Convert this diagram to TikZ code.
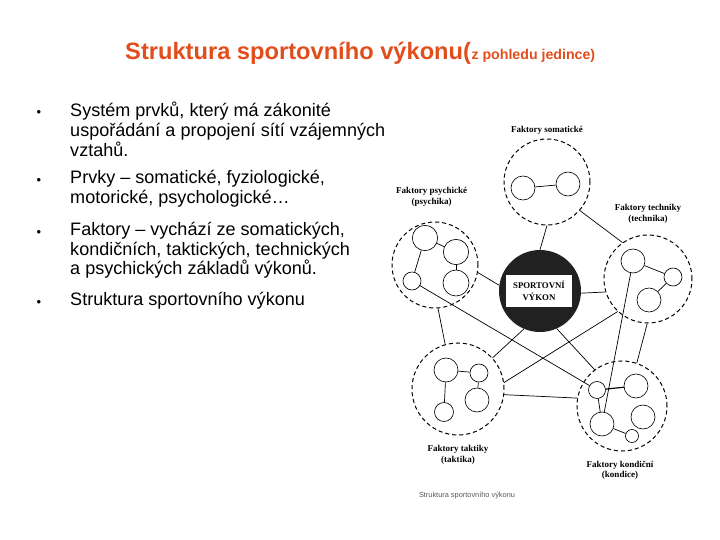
\documentclass[tikz,border=0pt]{standalone}
\usepackage{fontspec}
\setmainfont{Liberation Sans}
\newfontfamily\scanfont{Liberation Serif}
\usepackage{tikz}
\usetikzlibrary{positioning,calc}
\definecolor{titlered}{RGB}{226,78,27}
\tikzset{
    grp/.style={draw,circle,dash pattern=on 3.5pt off 2.5pt,line width=0.85pt,minimum size=#1,inner sep=0pt},
    elem/.style={draw,circle,line width=0.55pt,minimum size=#1,inner sep=0pt},
    elem/.default=0.72cm,
    core/.style={circle,fill=black!87,minimum size=2.46cm,inner sep=0pt},
    corebox/.style={fill=white,minimum width=1.98cm,minimum height=0.96cm,align=center,inner sep=0pt,font=\scanfont\bfseries\fontsize{7.5}{10}\selectfont},
    lab/.style={align=center,inner sep=0pt,font=\scanfont\bfseries\fontsize{7.7}{9}\selectfont},
    line/.style={-,line width=0.6pt},
    ttl/.style={anchor=base west,inner sep=0pt,text=titlered,font=\bfseries\fontsize{20.2}{24}\selectfont},
    subttl/.style={anchor=base west,inner sep=0pt,text=titlered,font=\bfseries\fontsize{12.1}{14}\selectfont},
    bullitem/.style={anchor=north west,align=left,inner sep=0pt,font=\fontsize{15.4}{16.8}\selectfont},
    bul/.style={inner sep=0pt,font=\fontsize{11}{12}\selectfont},
}
\begin{document}
\begin{tikzpicture}[x=0.03cm,y=-0.03cm]
    \useasboundingbox (0,0) rectangle (720,540);
    % title
    \node[ttl] (head) at (125,60) {Struktura sportovního výkonu(};
    \node[subttl] (headsub) at (head.base east) {z pohledu jedince)};
    % bullet list
    \node[bullitem] (it1) at (70,102) {Systém prvků, který má zákonité\\uspořádání a propojení sítí vzájemných\\vztahů.};
    \node[bullitem] (it2) at (70,170) {Prvky -- somatické, fyziologické,\\motorické, psychologické\dots};
    \node[bullitem] (it3) at (70,222) {Faktory -- vychází ze somatických,\\kondičních, taktických, technických\\a psychických základů výkonů.};
    \node[bullitem] (it4) at (70,292) {Struktura sportovního výkonu};
    \foreach \y [count=\i] in {113.5,181.5,233.5,303.5}
        \node[bul] (b\i) at (39,\y) {\textbullet};
    % factor groups
    \node[grp=2.58cm] (som) at (547,182) {};
    \node[grp=2.58cm] (psy) at (435,265) {};
    \node[grp=2.64cm] (tech) at (648,279) {};
    \node[grp=2.76cm] (tak) at (458,389) {};
    \node[grp=2.7cm] (kon) at (622,406) {};
    \node[core] (core) at (540,291) {};
    \node[corebox] (corelab) at (539,291) {SPORTOVNÍ\\VÝKON};
    % labels
    \node[lab,above=0.1cm of som] (somlab) {Faktory somatické};
    \node[lab,above=0.45cm of psy,xshift=-0.1cm] (psylab) {Faktory psychické\\(psychika)};
    \node[lab,above=0.33cm of tech] (techlab) {Faktory techniky\\(technika)};
    \node[lab,below=0.3cm of tak] (taklab) {Faktory taktiky\\(taktika)};
    \node[lab,below=0.27cm of kon,xshift=-0.06cm] (konlab) {Faktory kondiční\\(kondice)};
    \node[inner sep=0pt,text=black!65,font=\fontsize{6.3}{7}\selectfont] (caption) at (467,496) {Struktura sportovního výkonu};
    % elements
    \node[elem] (s1) at (523,188) {};
    \node[elem] (s2) at (568,184) {};
    \node[elem=0.76cm] (p1) at (425,238) {};
    \node[elem=0.76cm] (p2) at (456,252) {};
    \node[elem=0.54cm] (p3) at (412,281) {};
    \node[elem=0.78cm] (p4) at (456,283) {};
    \node[elem] (te1) at (633,261) {};
    \node[elem=0.54cm] (te2) at (673,277) {};
    \node[elem] (te3) at (649,300) {};
    \node[elem] (ta1) at (446,370) {};
    \node[elem=0.54cm] (ta2) at (479,373) {};
    \node[elem] (ta3) at (477,400) {};
    \node[elem=0.57cm] (ta4) at (444,412) {};
    \node[elem=0.51cm] (k1) at (597,390) {};
    \node[elem] (k2) at (636,386) {};
    \node[elem] (k3) at (643,417) {};
    \node[elem] (k4) at (602,424) {};
    \node[elem=0.39cm] (k5) at (632,436) {};
    \draw[line] (s1) -- (s2);
    \draw[line] (p1) -- (p2);
    \draw[line] (p2) -- (p4);
    \draw[line] (p1) -- (p3);
    \draw[line] (te1) -- (te2);
    \draw[line] (te2) -- (te3);
    \draw[line] (ta1) -- (ta2);
    \draw[line] (ta2) -- (ta3);
    \draw[line] (ta1) -- (ta4);
    \draw[line,line width=1pt] (k1) -- (k2);
    \draw[line] (k1) -- (k4);
    \draw[line] (k4) -- (k5);
    % links between groups
    \draw[line] (som.south) -- (core.north);
    \draw[line] (psy.-10) -- (core.172);
    \draw[line] (core.-3) -- (tech.197);
    \draw[line] (som.-41) -- (tech.125);
    \draw[line] (core.247) -- (tak.42);
    \draw[line] (core.-66) -- (kon.127);
    \draw[line] (tech.227) -- (tak.8);
    \draw[line] (tak.-7) -- (kon.170);
    \draw[line] (tech.-91) -- (kon.71);
    \draw[line] (psy.-86) -- (tak.106);
    \draw[line] (p3) -- (k1);
    \draw[line] (te1) -- (k4);
\end{tikzpicture}
\end{document}
